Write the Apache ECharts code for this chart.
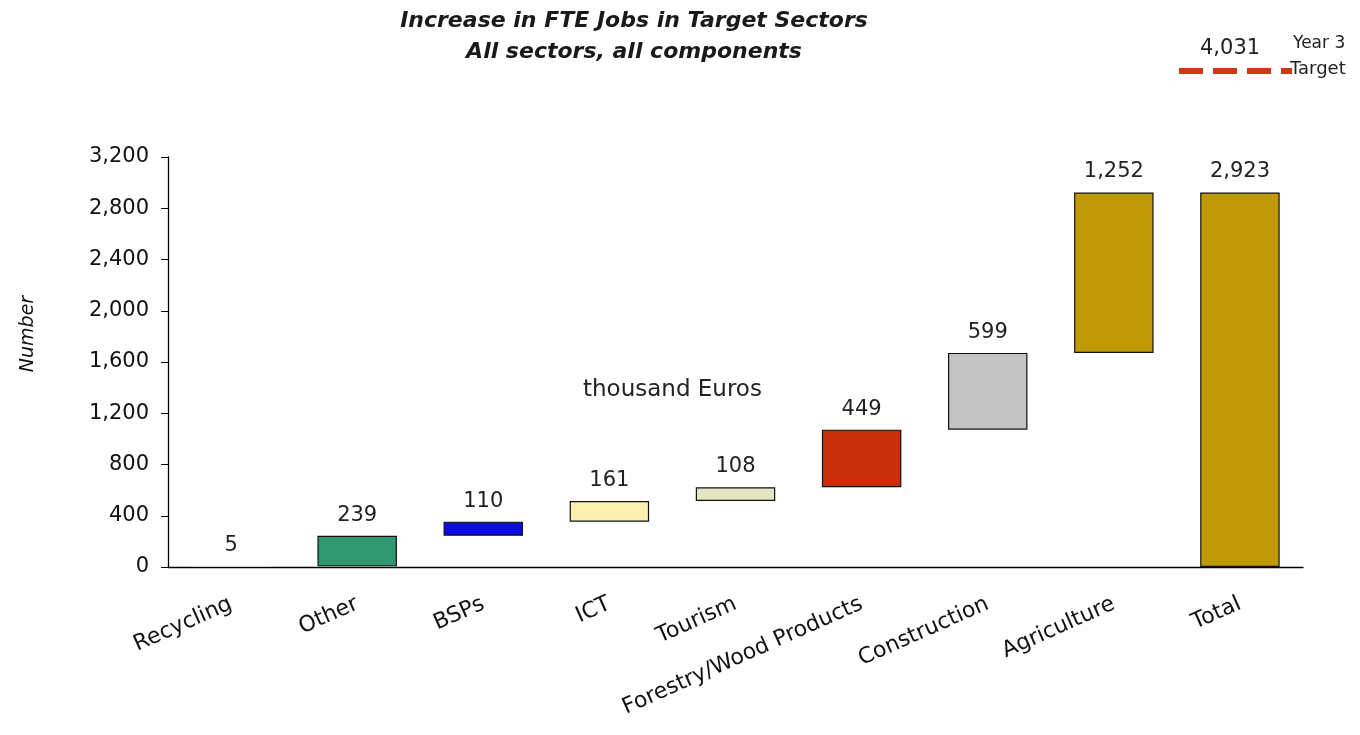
<!DOCTYPE html>
<html>
<head>
<meta charset="utf-8">
<script src="https://cdn.jsdelivr.net/npm/echarts@6/dist/echarts.min.js"></script>
<style>
  html, body { margin: 0; padding: 0; background: #ffffff; }
  #chart { width: 1360px; height: 735px; }
</style>
</head>
<body>
<div id="chart"></div>
<script>
// Sector contributions to the increase in FTE jobs
const categories = ['Recycling', 'Other', 'BSPs', 'ICT', 'Tourism', 'Forestry/Wood Products', 'Construction', 'Agriculture', 'Total'];
const increments = [5, 239, 110, 161, 108, 449, 599, 1252];
const totalValue = 2923;
const barColors = ['#d9d9d9', '#2f9870', '#0a0ae6', '#fbf0b0', '#e4e6c2', '#c8300c', '#c3c3c3', '#c09a06', '#c09a06'];
const yTicks = [0, 400, 800, 1200, 1600, 2000, 2400, 2800, 3200];
const targetValue = 4031;

// Waterfall: invisible base bars carry each step up to its running total
const bases = [];
let running = 0;
increments.forEach(v => { bases.push(running); running += v; });
bases.push(0);
const visible = increments.concat([totalValue]);

const fmt = v => v.toLocaleString('en-US');
const font = '"DejaVu Sans", Arial, sans-serif';

const chart = echarts.init(document.getElementById('chart'));
chart.setOption({
  animation: false,
  backgroundColor: '#ffffff',
  title: {
    text: 'Increase in FTE Jobs in Target Sectors\nAll sectors, all components',
    left: 629, top: 1, textAlign: 'center',
    textStyle: { fontFamily: font, fontSize: 22, fontWeight: 'bold', fontStyle: 'italic', color: '#1a1a1a', lineHeight: 31 }
  },
  grid: { left: 168, right: 57, top: 157, bottom: 168 },
  xAxis: {
    type: 'category',
    data: categories,
    axisLine: { lineStyle: { color: '#000', width: 1.3 } },
    axisTick: { show: false },
    axisLabel: { rotate: 24, interval: 0, margin: 36, fontFamily: font, fontSize: 22, color: '#111' }
  },
  yAxis: {
    type: 'value',
    min: yTicks[0], max: yTicks[yTicks.length - 1], interval: 400,
    axisLine: { show: true, lineStyle: { color: '#000', width: 1.3 } },
    axisTick: { show: true, length: 7, lineStyle: { color: '#000' } },
    splitLine: { show: false },
    axisLabel: { fontFamily: font, fontSize: 21, color: '#111', margin: 19, formatter: v => fmt(v) }
  },
  series: [
    {
      type: 'bar', stack: 'wf', barCategoryGap: '37%',
      data: bases,
      itemStyle: { color: 'transparent', borderColor: 'transparent' },
      emphasis: { disabled: true },
      silent: true
    },
    {
      type: 'bar', stack: 'wf', barCategoryGap: '37%',
      data: visible.map((v, i) => ({
        value: v,
        itemStyle: { color: barColors[i], borderColor: '#111', borderWidth: i === 0 ? 0 : 1.2 }
      })),
      label: {
        show: true, position: 'top', distance: 10,
        fontFamily: font, fontSize: 21, color: '#222',
        formatter: p => fmt(p.value)
      }
    }
  ],
  graphic: [
    { type: 'text', x: 28, y: 334, rotation: Math.PI / 2,
      style: { text: 'Number', font: 'italic 19px ' + font, fill: '#111', align: 'center', verticalAlign: 'middle' } },
    { type: 'text', left: 583, top: 379,
      style: { text: 'thousand Euros', font: '23px ' + font, fill: '#222' } },
    { type: 'text', left: 1200, top: 38,
      style: { text: fmt(targetValue), font: '21px ' + font, fill: '#222' } },
    { type: 'text', left: 1293, top: 35,
      style: { text: 'Year 3', font: '17px ' + font, fill: '#222' } },
    { type: 'line', shape: { x1: 1179, y1: 71, x2: 1292, y2: 71 },
      style: { stroke: '#cc3a14', lineWidth: 6, lineDash: [24, 10] } },
    { type: 'text', left: 1290, top: 60,
      style: { text: 'Target', font: '18px ' + font, fill: '#222' } }
  ]
});
</script>
</body>
</html>
